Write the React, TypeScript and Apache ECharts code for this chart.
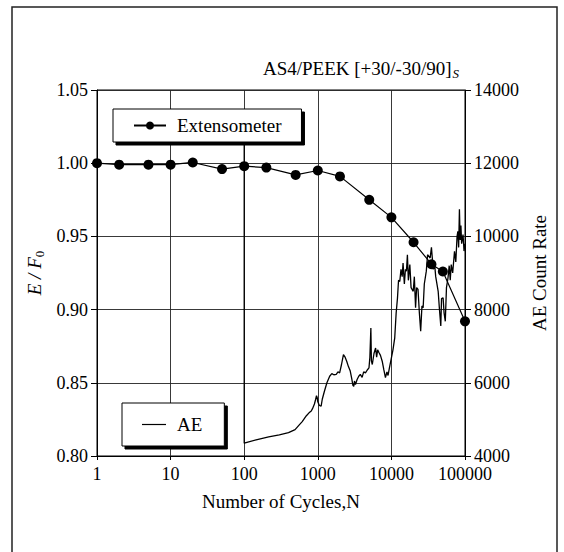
import React, { useEffect, useRef } from "react";
import * as echarts from "echarts";

const FONT = "Liberation Serif";

const xTickLabels = ["1", "10", "100", "1000", "10000", "100000"];

const extCycles = [1, 2, 5, 10, 20, 50, 100, 200, 500, 1000, 2000, 5000, 10000, 20000, 35000, 50000, 100000];
const extValues = [1.0, 0.999, 0.999, 0.999, 1.0005, 0.996, 0.998, 0.997, 0.992, 0.995, 0.991, 0.975, 0.963, 0.946, 0.931, 0.926, 0.892];

const aeCycles = [
  100, 100, 150, 215, 300, 400, 491, 560, 614, 700, 760, 815, 850, 900, 930, 960, 980, 1000, 1050, 1110,
  1150, 1230, 1330, 1450, 1550, 1650, 1780, 1880, 1980, 2100, 2230, 2350, 2470, 2600, 2760, 2900, 3000, 3080, 3150, 3250,
  3420, 3600, 3780, 4000, 4200, 4440, 4700, 4960, 5100, 5260, 5350, 5500, 5800, 6100, 6300, 6500, 6800, 7100, 7500, 7900,
  8300, 8700, 9000, 9400, 10000, 10500, 11100, 11600, 12100, 12500, 13000, 13500, 14000, 14400, 15000, 15500, 16000, 16500, 17000, 17800,
  18500, 19800, 20500, 21300, 22000, 23000, 24000, 25000, 26000, 27000, 28000, 29800, 31000, 33600, 35000, 37000, 38700, 40000, 43200, 45000,
  46900, 48000, 50400, 52000, 54000, 56000, 58700, 61000, 63000, 65000, 68000, 72000, 75000, 78000, 80000, 82000, 84000, 86000, 88000, 90000,
  94000, 97000, 100000,
];
const aeValues = [
  12500, 4350, 4450, 4520, 4580, 4640, 4720, 4850, 4940, 5100, 5180, 5230, 5300, 5420, 5530, 5650, 5600, 5480, 5380, 5360,
  5550, 5770, 6000, 6180, 6250, 6220, 6230, 6300, 6270, 6500, 6770, 6700, 6590, 6450, 6320, 6100, 5930, 5900, 6050, 5950,
  6090, 6180, 6230, 6150, 6300, 6270, 6350, 6410, 6700, 7500, 6600, 6500, 6800, 6950, 6700, 6900, 6820, 6750, 6590, 6350,
  6140, 6300, 6200, 6410, 6680, 6900, 7230, 7900, 8320, 8800, 8770, 9100, 8900, 9270, 8700, 9100, 9050, 9500, 8800, 9230,
  8600, 8500, 8900, 8050, 8600, 8550, 7900, 7410, 8100, 8050, 8700, 9050, 9500, 9410, 9700, 9100, 9230, 8900, 8500, 8000,
  7550, 8300, 8320, 7900, 7680, 8600, 8860, 9200, 8800, 9230, 9000, 9590, 9300, 10000, 10140, 9700, 10740, 9900, 10300, 9800,
  10050, 9600, 9800,
];

export default function App() {
  const ref = useRef<HTMLDivElement>(null);
  useEffect(() => {
    if (!ref.current) return;
    const chart = echarts.init(ref.current, null, { renderer: "svg" });
    const extData = extCycles.map((c, i) => [c, extValues[i]]);
    const aeData = aeCycles.map((c, i) => [c, aeValues[i]]);
    const legendCommon = {
      orient: "vertical" as const,
      backgroundColor: "#fff",
      borderColor: "#000",
      borderWidth: 1,
      shadowColor: "#000",
      shadowBlur: 0,
      shadowOffsetX: 3,
      shadowOffsetY: 3,
      borderRadius: 0,
      textStyle: { fontFamily: FONT, fontSize: 19, color: "#000", padding: [0, 0, 0, 6] },
    };
    chart.setOption({
      animation: false,
      backgroundColor: "#fff",
      textStyle: { fontFamily: FONT },
      title: {
        text: "{a|AS4/PEEK [+30/-30/90]}{s|S}",
        right: 100,
        top: 52,
        textStyle: {
          fontWeight: "normal",
          rich: {
            a: { fontFamily: FONT, fontSize: 19, fontWeight: "normal", color: "#000" },
            s: { fontFamily: FONT, fontSize: 13, fontWeight: "normal", fontStyle: "italic", color: "#000", padding: [10, 0, 0, 1] },
          },
        },
      },
      grid: {
        left: 97,
        right: 99,
        top: 90,
        bottom: 96,
        show: true,
        borderColor: "#000",
        borderWidth: 1,
        backgroundColor: "transparent",
      },
      legend: [
        {
          ...legendCommon,
          data: ["Extensometer"],
          left: 113,
          top: 109,
          itemWidth: 32,
          itemHeight: 10,
          padding: [7, 20, 7, 20],
        },
        {
          ...legendCommon,
          data: [{ name: "AE", icon: "rect" }],
          left: 122,
          top: 403,
          itemWidth: 24,
          itemHeight: 1.2,
          padding: [12, 22, 12, 20],
        },
      ],
      xAxis: {
        type: "log",
        logBase: 10,
        min: 1,
        max: 100000,
        name: "Number of Cycles,N",
        nameLocation: "middle",
        nameGap: 36,
        nameTextStyle: { fontFamily: FONT, fontSize: 19, color: "#000" },
        axisLine: { lineStyle: { color: "#000", width: 1 } },
        axisTick: { show: true, length: 4, lineStyle: { color: "#000" } },
        axisLabel: {
          fontFamily: FONT,
          fontSize: 18,
          color: "#000",
          margin: 9,
          formatter: (v: number) => {
            const idx = Math.round(Math.log10(v));
            return xTickLabels[idx] ?? "";
          },
        },
        splitLine: { show: true, lineStyle: { color: "#222", width: 0.9 } },
      },
      yAxis: [
        {
          type: "value",
          min: 0.8,
          max: 1.05,
          interval: 0.05,
          position: "left",
          name: "{i|E / F}{s|0}",
          nameLocation: "middle",
          nameGap: 50,
          nameTextStyle: {
            color: "#000",
            fontFamily: FONT,
            fontSize: 19,
            rich: {
              i: { fontFamily: FONT, fontSize: 19, fontStyle: "italic", color: "#000" },
              s: { fontFamily: FONT, fontSize: 13, color: "#000", padding: [9, 0, 0, 0] },
            },
          },
          axisLine: { show: true, lineStyle: { color: "#000", width: 1 } },
          axisTick: { show: true, length: 6, lineStyle: { color: "#000" } },
          axisLabel: {
            fontFamily: FONT,
            fontSize: 18,
            color: "#000",
            margin: 9,
            formatter: (v: number) => v.toFixed(2),
          },
          splitLine: { show: true, lineStyle: { color: "#222", width: 0.9 } },
        },
        {
          type: "value",
          min: 4000,
          max: 14000,
          interval: 2000,
          position: "right",
          name: "AE Count Rate",
          nameLocation: "middle",
          nameGap: 62,
          nameTextStyle: { fontFamily: FONT, fontSize: 19, color: "#000" },
          axisLine: { show: true, lineStyle: { color: "#000", width: 1 } },
          axisTick: { show: true, length: 6, lineStyle: { color: "#000" } },
          axisLabel: {
            fontFamily: FONT,
            fontSize: 18,
            color: "#000",
            margin: 9,
            formatter: (v: number) => String(Math.round(v)),
          },
          splitLine: { show: false },
        },
      ],
      series: [
        {
          name: "Extensometer",
          type: "line",
          yAxisIndex: 0,
          data: extData,
          symbol: "circle",
          symbolSize: 10,
          itemStyle: { color: "#000" },
          lineStyle: { color: "#000", width: 1.2 },
          z: 3,
        },
        {
          name: "AE",
          type: "line",
          yAxisIndex: 1,
          data: aeData,
          symbol: "none",
          showSymbol: false,
          itemStyle: { color: "#000" },
          lineStyle: { color: "#000", width: 1.3 },
          z: 2,
        },
      ],
      graphic: [
        {
          type: "rect",
          silent: true,
          z: -1,
          shape: { x: 12, y: 7, width: 545, height: 580 },
          style: { fill: "none", stroke: "#222", lineWidth: 1.5 },
        },
      ],
    });
    return () => chart.dispose();
  }, []);
  return (
    <div
      ref={ref}
      style={{ position: "fixed", left: 0, top: 0, width: 564, height: 552 }}
    />
  );
}
